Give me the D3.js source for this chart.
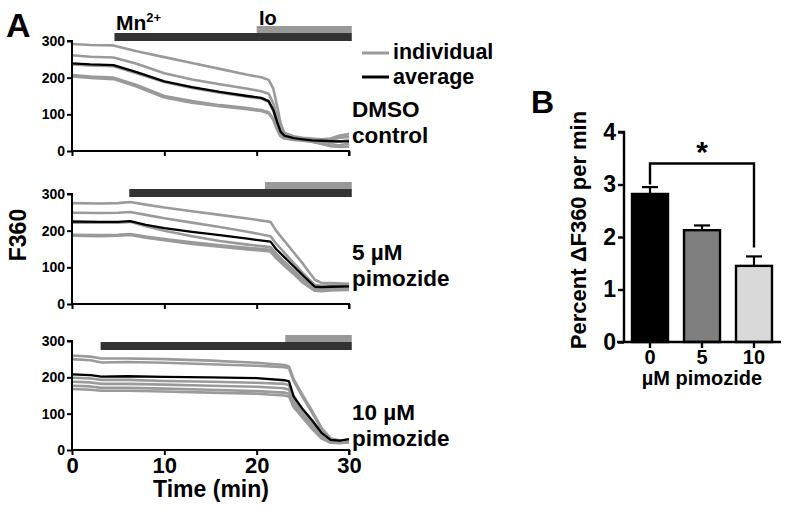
<!DOCTYPE html>
<html><head><meta charset="utf-8">
<script src="https://cdn.jsdelivr.net/npm/d3@7"></script>
<style>
body{margin:0;background:#fff}
text{font-family:"Liberation Sans",Arial,sans-serif;font-weight:bold;fill:#000}
</style></head><body>
<svg id="c" width="787" height="508"></svg>
<script>
// ---------- Panel A data ----------
const timeTicks = [0, 10, 20, 30];
const fTicks = [0, 100, 200, 300];
const conditions = ["DMSO|control", "5 µM|pimozide", "10 µM|pimozide"];
const mnStart = [4.6, 6.2, 3.1];
const ioStart = [20.0, 20.9, 23.1];

const t1 = [0, 2, 4.5, 7, 10, 13, 16, 19, 20.5, 21.3, 21.8, 22.2, 22.6, 23, 24, 25, 26, 27, 28, 29, 30];
const avg1 = [239, 236, 234, 215, 190, 174, 161, 150, 145, 136, 112, 80, 52, 42, 35, 32, 29, 28, 27, 26, 26];
const ind1 = [
  [292, 289, 288, 272, 256, 240, 224, 208, 201, 194, 170, 125, 75, 50, 40, 36, 34, 32, 34, 42, 46],
  [261, 257, 255, 238, 212, 195, 182, 170, 163, 156, 130, 95, 58, 44, 37, 33, 30, 28, 30, 36, 38],
  [236, 233, 231, 212, 188, 172, 159, 148, 143, 134, 110, 78, 50, 40, 33, 29, 25, 20, 13, 11, 12],
  [207, 203, 200, 180, 150, 136, 125, 117, 112, 106, 88, 62, 42, 36, 32, 30, 27, 25, 22, 26, 30],
  [203, 199, 196, 176, 146, 132, 122, 114, 109, 103, 85, 58, 40, 34, 30, 28, 25, 20, 15, 16, 20]
];

const t2 = [0, 3, 5, 6.3, 8, 10, 13, 16, 19, 21.5, 22.1, 23, 24, 25, 26.3, 27, 28, 30];
const avg2 = [225, 224, 224, 226, 216, 207, 197, 188, 178, 170, 150, 128, 103, 78, 47, 46, 47, 48];
const ind2 = [
  [275, 274, 275, 278, 271, 263, 253, 243, 233, 224, 200, 172, 141, 110, 66, 58, 57, 55],
  [249, 248, 249, 251, 243, 234, 222, 210, 197, 185, 165, 140, 112, 84, 52, 50, 50, 50],
  [222, 222, 222, 224, 212, 200, 185, 172, 162, 155, 138, 115, 92, 68, 44, 43, 44, 44],
  [189, 188, 189, 191, 184, 177, 168, 160, 153, 148, 130, 108, 86, 63, 40, 39, 40, 41],
  [186, 185, 186, 188, 181, 174, 164, 156, 149, 143, 125, 104, 82, 58, 36, 35, 37, 38]
];

const t3 = [0, 2, 3.2, 6, 10, 15, 20, 23, 23.5, 24, 25, 26, 27, 28, 29, 30];
const avg3 = [208, 206, 202, 203, 201, 200, 198, 192, 189, 148, 112, 82, 48, 28, 26, 30];
const ind3 = [
  [260, 257, 252, 252, 250, 246, 240, 234, 230, 195, 150, 108, 62, 32, 26, 24],
  [250, 247, 241, 242, 240, 236, 232, 228, 225, 190, 145, 102, 58, 30, 25, 22],
  [199, 197, 193, 193, 190, 188, 185, 182, 178, 142, 105, 72, 42, 26, 23, 25],
  [188, 186, 182, 182, 180, 177, 174, 170, 166, 132, 98, 66, 38, 24, 22, 24],
  [177, 175, 171, 171, 169, 166, 162, 158, 155, 124, 92, 62, 35, 22, 20, 22],
  [168, 166, 163, 163, 161, 158, 155, 150, 147, 118, 88, 58, 32, 20, 19, 21]
];

// ---------- Panel B data ----------
const doses = ["0", "5", "10"];
const rateMean = [2.82, 2.13, 1.45];
const rateSem = [0.13, 0.09, 0.18];
const rateTicks = [0, 1, 2, 3, 4];

// ---------- Drawing ----------
const svg = d3.select("#c");
const x = d3.scaleLinear().domain([0, 30]).range([72, 349]);
const panels = [
  {t: t1, avg: avg1, ind: ind1, y0: 151, y300: 41, barTop: 26, labY: 117},
  {t: t2, avg: avg2, ind: ind2, y0: 304, y300: 194, barTop: 182, labY: 260},
  {t: t3, avg: avg3, ind: ind3, y0: 450, y300: 341, barTop: 335, labY: 420}
];

panels.forEach((p, i) => {
  const y = d3.scaleLinear().domain([0, 300]).range([p.y0, p.y300]);
  const line = d3.line().x((d, k) => x(p.t[k])).y(d => y(d));
  const g = svg.append("g");
  p.ind.forEach(s => g.append("path").attr("d", line(s)).attr("fill", "none")
    .attr("stroke", "#9a9a9a").attr("stroke-width", 2.6).attr("stroke-linejoin", "round"));
  g.append("path").attr("d", line(p.avg)).attr("fill", "none")
    .attr("stroke", "#000").attr("stroke-width", 2.3).attr("stroke-linejoin", "round");

  // y axis
  const ya = g.append("g").attr("transform", `translate(${x(0)},0)`)
    .call(d3.axisLeft(y).tickValues(fTicks).tickSize(5).tickPadding(2));
  ya.select(".domain").attr("stroke-width", 2).attr("d", `M-5,${y(300)}H0V${y(0)}`);
  ya.selectAll(".tick line").attr("stroke-width", 2);
  ya.selectAll(".tick text").style("font-size", "14px").style("font-family", "Liberation Sans, Arial").style("font-weight", "bold");
  // x axis
  const xa = g.append("g").attr("transform", `translate(0,${p.y0})`)
    .call(d3.axisBottom(x).tickValues(timeTicks).tickSize(5).tickPadding(2)
      .tickFormat(i === 2 ? d3.format("d") : ""));
  xa.select(".domain").attr("stroke-width", 2).attr("d", `M${x(0)},0H${x(30)}V5`);
  xa.selectAll(".tick line").attr("stroke-width", 2);
  xa.selectAll(".tick text").style("font-size", "22px").style("font-family", "Liberation Sans, Arial").style("font-weight", "bold");

  // treatment bars
  g.append("rect").attr("x", x(ioStart[i])).attr("y", p.barTop)
    .attr("width", x(30.3) - x(ioStart[i])).attr("height", 7).attr("fill", "#999");
  g.append("rect").attr("x", x(mnStart[i])).attr("y", p.barTop + 7)
    .attr("width", x(30.3) - x(mnStart[i])).attr("height", 8).attr("fill", "#333");

  // condition label
  const parts = conditions[i].split("|");
  g.append("text").attr("x", 352).attr("y", p.labY).style("font-size", "22.5px").text(parts[0]);
  g.append("text").attr("x", 352).attr("y", p.labY + 26).style("font-size", "22.5px").text(parts[1]);
});

// Mn2+ and Io labels
const mn = svg.append("text").attr("x", 116).attr("y", 30).style("font-size", "21px");
mn.append("tspan").text("Mn");
mn.append("tspan").attr("dy", -8).style("font-size", "13px").text("2+");
svg.append("text").attr("x", 259).attr("y", 25).style("font-size", "20px").text("Io");

// legend
svg.append("line").attr("x1", 362).attr("x2", 389).attr("y1", 53).attr("y2", 53).attr("stroke", "#9a9a9a").attr("stroke-width", 3);
svg.append("line").attr("x1", 362).attr("x2", 389).attr("y1", 77).attr("y2", 77).attr("stroke", "#000").attr("stroke-width", 3);
svg.append("text").attr("x", 393).attr("y", 59).style("font-size", "21.5px").text("individual");
svg.append("text").attr("x", 393).attr("y", 84).style("font-size", "21.5px").text("average");

// axis titles
svg.append("text").attr("x", 211).attr("y", 497).attr("text-anchor", "middle").style("font-size", "23px").text("Time (min)");
svg.append("text").attr("transform", "translate(26,235) rotate(-90)").attr("text-anchor", "middle").style("font-size", "23px").text("F360");
svg.append("text").attr("x", 6).attr("y", 37).style("font-size", "34px").text("A");
svg.append("text").attr("x", 531).attr("y", 113).style("font-size", "32px").text("B");

// ---------- Panel B ----------
const bx = d3.scaleBand().domain(doses).range([624, 780]).paddingInner(0.3077).paddingOuter(0.154);
const by = d3.scaleLinear().domain([0, 4]).range([342, 132]);
const colors = ["#000", "#7f7f7f", "#d9d9d9"];
const gb = svg.append("g");
doses.forEach((d, k) => {
  const cx = bx(d) + bx.bandwidth() / 2;
  gb.append("line").attr("x1", cx).attr("x2", cx).attr("y1", by(rateMean[k])).attr("y2", by(rateMean[k] + rateSem[k]))
    .attr("stroke", "#000").attr("stroke-width", 2.2);
  gb.append("line").attr("x1", cx - 8).attr("x2", cx + 8).attr("y1", by(rateMean[k] + rateSem[k])).attr("y2", by(rateMean[k] + rateSem[k]))
    .attr("stroke", "#000").attr("stroke-width", 2.2);
  gb.append("rect").attr("x", bx(d)).attr("y", by(rateMean[k])).attr("width", bx.bandwidth())
    .attr("height", by(0) - by(rateMean[k])).attr("fill", colors[k]).attr("stroke", "#000").attr("stroke-width", 2.4);
});
const bya = gb.append("g").attr("transform", "translate(624,0)")
  .call(d3.axisLeft(by).tickValues(rateTicks).tickSize(6).tickPadding(2).tickFormat(d3.format("d")));
bya.select(".domain").attr("stroke-width", 2.4).attr("d", `M-6,${by(4)}H0V${by(0)}`);
bya.selectAll(".tick line").attr("stroke-width", 2.4);
bya.selectAll(".tick text").style("font-size", "23px").style("font-family", "Liberation Sans, Arial").style("font-weight", "bold");
const bxa = gb.append("g").attr("transform", "translate(0,342)")
  .call(d3.axisBottom(bx).tickSize(6).tickPadding(2));
bxa.select(".domain").attr("stroke-width", 2.4).attr("d", "M617,0H781");
bxa.selectAll(".tick line").attr("stroke-width", 2.4);
bxa.selectAll(".tick text").style("font-size", "20px").style("font-family", "Liberation Sans, Arial").style("font-weight", "bold");

svg.append("text").attr("x", 702).attr("y", 385).attr("text-anchor", "middle").style("font-size", "20px").text("µM pimozide");
svg.append("text").attr("transform", "translate(586,230) rotate(-90)").attr("text-anchor", "middle").style("font-size", "22px").text("Percent ΔF360 per min");

// significance bracket
const c0 = bx("0") + bx.bandwidth() / 2, c2 = bx("10") + bx.bandwidth() / 2;
gb.append("path").attr("d", `M${c0},${by(3.0)}V${by(3.4)}H${c2}V${by(1.8)}`)
  .attr("fill", "none").attr("stroke", "#000").attr("stroke-width", 2.4);
svg.append("text").attr("x", (c0 + c2) / 2).attr("y", 162).attr("text-anchor", "middle").style("font-size", "30px").text("*");
</script>
</body></html>
